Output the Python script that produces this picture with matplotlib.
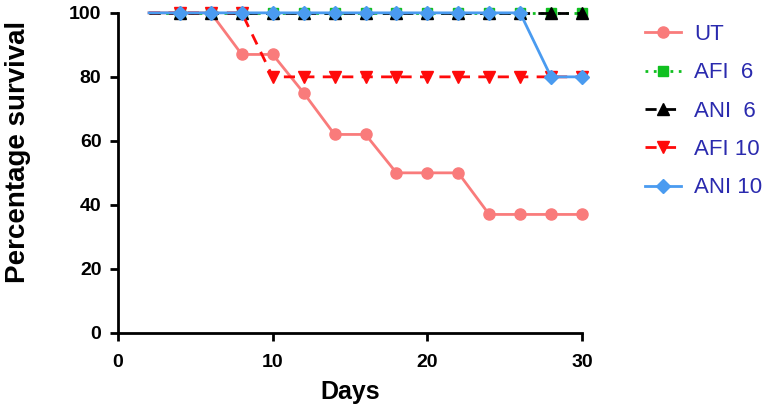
import matplotlib.pyplot as plt
from matplotlib.lines import Line2D

plt.rcParams['font.family'] = ['Liberation Sans', 'DejaVu Sans']

# day 2 is where the curves start (no marker drawn there)
days = [2, 4, 6, 8, 10, 12, 14, 16, 18, 20, 22, 24, 26, 28, 30]

ut = [100, 100, 100, 87, 87, 75, 62, 62, 50, 50, 50, 37, 37, 37, 37]
afi6 = [100] * 15
ani6 = [100] * 15
afi10 = [100, 100, 100, 100, 80, 80, 80, 80, 80, 80, 80, 80, 80, 80, 80]
ani10 = [100, 100, 100, 100, 100, 100, 100, 100, 100, 100, 100, 100, 100, 80, 80]

series = [
    ('UT', ut, '#F97B7B', 'o', '-', 8),
    ('AFI  6', afi6, '#10C020', 's', (0, (1, 2)), 7),
    ('ANI  6', ani6, '#000000', '^', (0, (4, 3)), 8),
    ('AFI 10', afi10, '#FF0A0A', 'v', (0, (4, 3)), 8),
    ('ANI 10', ani10, '#4A9BF0', 'D', '-', 7),
]

fig = plt.figure(figsize=(7.77, 4.15), dpi=100)
ax = fig.add_axes([0.152, 0.198, 0.597, 0.771])

handles = []
for label, vals, col, mk, ls, ms in series:
    ax.plot(days, vals, color=col, linestyle=ls, linewidth=2, marker=mk,
            markersize=ms, markevery=slice(1, None), clip_on=False)
    handles.append(Line2D([], [], color=col, linestyle=ls, linewidth=2,
                          marker=mk, markersize=ms, label=label))

ax.set_xlim(0, 30)
ax.set_ylim(0, 100)
ax.set_xticks([0, 10, 20, 30])
ax.set_yticks([0, 20, 40, 60, 80, 100])
for s in ['top', 'right']:
    ax.spines[s].set_visible(False)
for s in ['left', 'bottom']:
    ax.spines[s].set_linewidth(2)
ax.tick_params(width=2, length=6, labelsize=14)
ax.tick_params(axis='x', pad=9)
ax.tick_params(axis='y', pad=6)
for t in ax.get_xticklabels() + ax.get_yticklabels():
    t.set_fontweight('bold')
ax.set_xlabel('Days', fontsize=18, fontweight='bold', labelpad=7)
ax.set_ylabel('Percentage survival', fontsize=20, fontweight='bold')
ax.yaxis.set_label_coords(-0.188, 0.565)

leg = fig.legend(handles=handles, loc='upper left', bbox_to_anchor=(0.805, 0.99),
                 frameon=False, fontsize=16, handlelength=1.6, labelspacing=0.78,
                 handletextpad=0.6)
for t in leg.get_texts():
    t.set_color('#2A2AAE')

fig.savefig('out.png', dpi=100)
